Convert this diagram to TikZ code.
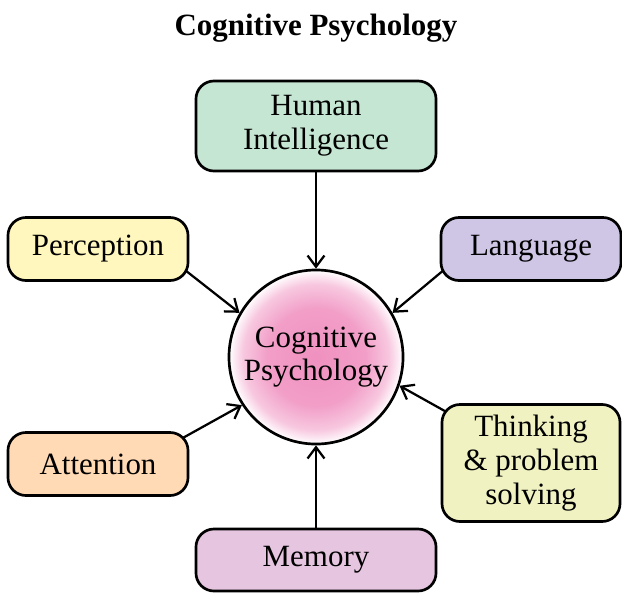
\documentclass[tikz,border=0pt]{standalone}
\usepackage{fontspec}
\setmainfont{Liberation Serif}
\usepackage{tikz}
\usetikzlibrary{arrows.meta,backgrounds}
\definecolor{humgreen}{RGB}{197,230,210}
\definecolor{peryellow}{RGB}{255,247,190}
\definecolor{langlilac}{RGB}{207,198,230}
\definecolor{attpeach}{RGB}{255,218,181}
\definecolor{thkyellow}{RGB}{240,242,194}
\definecolor{memmauve}{RGB}{230,197,224}
\definecolor{cogpink}{RGB}{240,145,192}
\pgfdeclareradialshading{cogshade}{\pgfpoint{0bp}{0bp}}{color(0bp)=(cogpink); color(14bp)=(cogpink!88!white); color(21bp)=(cogpink!50!white); color(25bp)=(white); color(50bp)=(white)}

\begin{document}
\begin{tikzpicture}[x=0.025cm,y=-0.025cm,
    every node/.style={font=\fontsize{22}{24}\selectfont},
    topic/.style={draw, line width=1.9pt, rounded corners=0.45cm, align=center, inner sep=0pt},
    feed/.style={line width=1.6pt, -{Straight Barb[length=8pt,width=12pt,line width=1.6pt]}, shorten <=-6pt}]
\useasboundingbox (0,0) rectangle (622,592);
\node[font=\fontsize{22}{24}\selectfont\bfseries] (title) at (316,28) {Cognitive Psychology};
\node[circle, draw, line width=1.9pt, shading=cogshade, minimum size=4.35cm, align=center, inner sep=0pt] (cog) at (316,357) {Cognitive\\Psychology};
\node[topic, fill=humgreen, minimum width=6cm, minimum height=2.25cm] (hum) at (316,126) {Human\\Intelligence};
\node[topic, fill=peryellow, minimum width=4.5cm, minimum height=1.575cm] (per) at (98,249) {Perception};
\node[topic, fill=langlilac, minimum width=4.5cm, minimum height=1.575cm] (lang) at (531,249) {Language};
\node[topic, fill=attpeach, minimum width=4.5cm, minimum height=1.575cm] (att) at (98,464) {Attention};
\node[topic, fill=thkyellow, minimum width=4.45cm, minimum height=2.925cm] (thk) at (531,463) {Thinking\\\& problem\\solving};
\node[topic, fill=memmauve, minimum width=6cm, minimum height=1.55cm] (mem) at (316,560) {Memory};
% arrows behind the boxes
\begin{scope}[on background layer]
\draw[feed] (hum.south) -- (cog.north);
\draw[feed] (per.-15) -- (cog.150);
\draw[feed] (lang.195) -- (cog.30);
\draw[feed] (att.18) -- (cog.213);
\draw[feed] (thk.149) -- (cog.-19);
\draw[feed] (mem.north) -- (cog.south);
\end{scope}
\end{tikzpicture}
\end{document}
